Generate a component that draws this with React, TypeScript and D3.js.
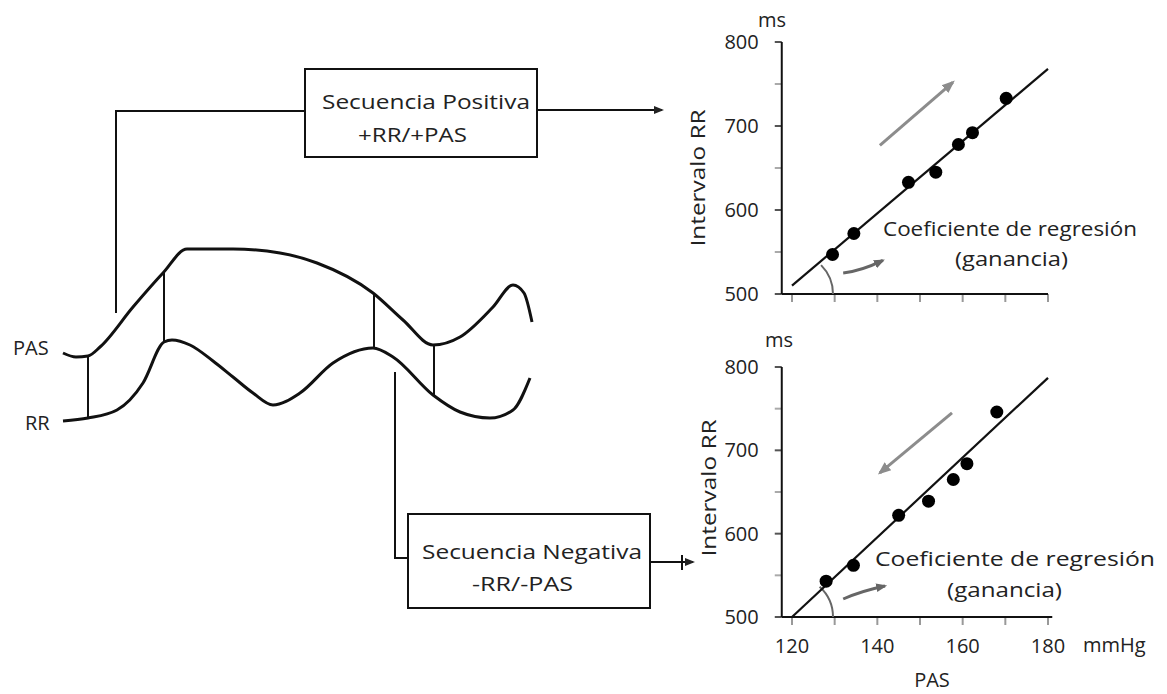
import React, { useEffect, useRef } from "react";
import * as d3 from "d3";

// scatter data (PAS mmHg vs Intervalo RR ms)
const pasTicks = [120, 130, 140, 150, 160, 170, 180];
const pasLabels = [120, 140, 160, 180];
const rrTicks = [500, 550, 600, 650, 700, 750, 800];
const rrLabels = [500, 600, 700, 800];

const pasPositive = [129.5, 134.5, 147.3, 153.7, 159, 162.3, 170.2];
const rrPositive = [547, 572, 633, 645, 678, 692, 733];
const fitPositive = [[120, 510], [180, 768]];

const pasNegative = [128, 134.4, 145, 152, 157.8, 161, 168];
const rrNegative = [543, 562, 622, 639, 665, 684, 746];
const fitNegative = [[120, 500], [180, 787]];

// schematic waveforms: time units vs amplitude units
const pasWave = [[0, 68], [13, 64], [25, 65], [37, 74], [70, 114], [100, 148], [124, 172], [170, 172], [217, 168], [254, 158], [310, 128], [340, 101], [370, 76], [397, 84], [430, 114], [450, 136], [461, 128], [469, 99]];
const rrWave = [[0, 0], [25, 3], [54, 11], [80, 38], [101, 79], [109, 81], [127, 76], [150, 60], [170, 44], [190, 28], [210, 16], [237, 28], [270, 58], [310, 73], [330, 64], [370, 26], [397, 9], [427, 3], [450, 11], [467, 43]];
const connectorT = [25, 101, 311, 371];
const connectorPas = [65, 148, 128, 76];
const connectorRr = [3, 79, 72, 25];

const FONT = "'Open Sans', 'Noto Sans', sans-serif";
const INK = "#222";

export default function App() {
    const svgRef = useRef(null);

    useEffect(() => {
        const svg = d3.select(svgRef.current);
        svg.selectAll("*").remove();

        const defs = svg.append("defs");
        const mk = (id, color, size) => defs.append("marker")
            .attr("id", id)
            .attr("viewBox", "0 -5 10 10")
            .attr("refX", 8)
            .attr("markerUnits", "userSpaceOnUse")
            .attr("markerWidth", size)
            .attr("markerHeight", size)
            .attr("orient", "auto")
            .append("path")
            .attr("d", "M0,-4L10,0L0,4Z")
            .style("fill", color);
        mk("arrowBlack", "#222", 10);
        mk("arrowGrey", "#8c8c8c", 13);
        mk("arrowDark", "#666", 11);

        const g = svg.append("g");

        /////// waveforms ///////
        const tx = d3.scaleLinear().domain([0, 470]).range([63, 533]);
        const ay = d3.scaleLinear().domain([0, 180]).range([421, 241]);
        const wave = d3.line().x(d => tx(d[0])).y(d => ay(d[1])).curve(d3.curveMonotoneX);

        [pasWave, rrWave].forEach(w => {
            g.append("path").attr("d", wave(w))
                .style("fill", "none").style("stroke", "#111").style("stroke-width", 3)
                .style("stroke-linejoin", "round");
        });

        connectorT.forEach((t, i) => {
            g.append("line")
                .attr("x1", tx(t)).attr("x2", tx(t))
                .attr("y1", ay(connectorPas[i])).attr("y2", ay(connectorRr[i]))
                .style("stroke", "#111").style("stroke-width", 2);
        });

        g.append("text").attr("x", 13).attr("y", 355).text("PAS");
        g.append("text").attr("x", 25).attr("y", 430).text("RR");

        /////// leader lines and boxes ///////
        const thin = sel => sel.style("fill", "none").style("stroke", "#111").style("stroke-width", 2);
        thin(g.append("path").attr("d", "M116,313V111H305"));
        thin(g.append("path").attr("d", "M395,372V558H408"));

        thin(g.append("rect").attr("x", 305).attr("y", 69).attr("width", 232).attr("height", 88));
        thin(g.append("rect").attr("x", 408).attr("y", 514).attr("width", 242).attr("height", 94));

        thin(g.append("line").attr("x1", 537).attr("y1", 110).attr("x2", 662).attr("y2", 110))
            .attr("marker-end", "url(#arrowBlack)");
        thin(g.append("line").attr("x1", 650).attr("y1", 562).attr("x2", 693).attr("y2", 562))
            .attr("marker-end", "url(#arrowBlack)");
        thin(g.append("line").attr("x1", 682).attr("y1", 555).attr("x2", 682).attr("y2", 570));

        const boxText = (x, y, len, s) => g.append("text").attr("x", x).attr("y", y)
            .attr("textLength", len).attr("lengthAdjust", "spacingAndGlyphs").text(s);
        boxText(322, 109, 208, "Secuencia Positiva");
        boxText(358, 142, 109, "+RR/+PAS");
        boxText(422, 559, 220, "Secuencia Negativa");
        boxText(472, 591, 101, "-RR/-PAS");

        /////// scatter panels ///////
        const x = d3.scaleLinear().domain([120, 180]).range([792, 1048]);
        const axisPas = 117.6;

        function panel({ top, bottom, pas, rr, fit, xLabels, axisEnd, trend, small, smallCurve, msX, msY, ylabY, ylabX, coef, gan }) {
            const y = d3.scaleLinear().domain([500, 800]).range([bottom, top]);
            const p = g.append("g");
            const x0 = x(axisPas);

            // y ticks
            rrTicks.forEach(v => {
                const major = rrLabels.includes(v);
                p.append("line").attr("x1", x0 - 7).attr("x2", x0).attr("y1", y(v)).attr("y2", y(v))
                    .style("stroke", major ? "#555" : "#aaa").style("stroke-width", 2);
            });
            rrLabels.forEach(v => {
                p.append("text").attr("x", x0 - 23).attr("y", y(v)).attr("dy", "0.35em")
                    .attr("text-anchor", "end").text(v);
            });
            // x ticks
            pasTicks.forEach(v => {
                p.append("line").attr("x1", x(v)).attr("x2", x(v)).attr("y1", y(500)).attr("y2", y(500) + 8)
                    .style("stroke", "#999").style("stroke-width", 2);
            });
            if (xLabels) {
                pasLabels.forEach(v => {
                    p.append("text").attr("x", x(v)).attr("y", y(500) + 36)
                        .attr("text-anchor", "middle").text(v);
                });
                p.append("text").attr("x", 1083).attr("y", y(500) + 35).text("mmHg");
                p.append("text").attr("x", 932).attr("y", y(500) + 70).attr("text-anchor", "middle").text("PAS");
            }
            // axes
            p.append("line").attr("x1", x0).attr("x2", x0).attr("y1", y(800)).attr("y2", y(500))
                .style("stroke", "#111").style("stroke-width", 2);
            p.append("line").attr("x1", x0).attr("x2", x(axisEnd)).attr("y1", y(500)).attr("y2", y(500))
                .style("stroke", "#111").style("stroke-width", 2);

            // angle arc at the start of the fit line
            const cx = x(fit[0][0]), cy = y(500);
            const ang = Math.atan2(y(fit[0][1]) - y(fit[1][1]), x(fit[1][0]) - x(fit[0][0]));
            const arc = d3.path();
            arc.arc(cx, cy, 41, 0, -ang - 0.08, true);
            p.append("path").attr("d", arc.toString())
                .style("fill", "none").style("stroke", "#666").style("stroke-width", 2);

            // regression line
            p.append("line")
                .attr("x1", x(fit[0][0])).attr("y1", y(fit[0][1]))
                .attr("x2", x(fit[1][0])).attr("y2", y(fit[1][1]))
                .style("stroke", "#111").style("stroke-width", 2.2);

            // points
            p.selectAll(".dot").data(pas).enter().append("circle")
                .attr("class", "dot")
                .attr("cx", d => x(d)).attr("cy", (d, i) => y(rr[i]))
                .attr("r", 6.5).style("fill", "#000");

            // trend arrow
            p.append("line")
                .attr("x1", x(trend[0][0])).attr("y1", y(trend[0][1]))
                .attr("x2", x(trend[1][0])).attr("y2", y(trend[1][1]))
                .style("stroke", "#8c8c8c").style("stroke-width", 3)
                .attr("marker-end", "url(#arrowGrey)");

            // small arrow pointing to the angle
            const sp = d3.path();
            sp.moveTo(x(small[0][0]), y(small[0][1]));
            sp.quadraticCurveTo(x(small[0][0]) + 18, y(small[0][1]) - smallCurve, x(small[1][0]), y(small[1][1]));
            p.append("path").attr("d", sp.toString())
                .style("fill", "none").style("stroke", "#666").style("stroke-width", 3)
                .attr("marker-end", "url(#arrowDark)");

            p.append("text").attr("x", msX).attr("y", msY).text("ms");
            p.append("text").attr("transform", `translate(${ylabX},${ylabY}) rotate(-90)`)
                .attr("text-anchor", "middle").attr("textLength", 137).attr("lengthAdjust", "spacingAndGlyphs")
                .text("Intervalo RR");
            p.append("text").attr("x", coef[0]).attr("y", coef[1]).attr("textLength", coef[2])
                .attr("lengthAdjust", "spacingAndGlyphs").text("Coeficiente de regresión");
            p.append("text").attr("x", gan[0]).attr("y", gan[1]).attr("textLength", gan[2])
                .attr("lengthAdjust", "spacingAndGlyphs").text("(ganancia)");
        }

        panel({
            top: 42, bottom: 294, pas: pasPositive, rr: rrPositive, fit: fitPositive, xLabels: false, axisEnd: 180,
            trend: [[140.6, 677], [157.7, 752]], small: [[132, 525], [141.3, 540]], smallCurve: 2,
            msX: 758, msY: 27, ylabX: 705, ylabY: 178,
            coef: [883, 236, 254], gan: [955, 266, 113]
        });
        panel({
            top: 367, bottom: 617, pas: pasNegative, rr: rrNegative, fit: fitNegative, xLabels: true, axisEnd: 181,
            trend: [[157.5, 745], [140.6, 673]], small: [[132, 521.6], [141.8, 537.2]], smallCurve: 8,
            msX: 765, msY: 347, ylabX: 716, ylabY: 488,
            coef: [875, 566, 280], gan: [947, 597, 115]
        });

        svg.selectAll("text")
            .style("font-family", FONT)
            .style("font-size", "20px")
            .style("fill", INK);
    }, []);

    return (
        <svg ref={svgRef} width={1167} height={694}
            style={{ position: "absolute", left: 0, top: 0, background: "#fff" }} />
    );
}
